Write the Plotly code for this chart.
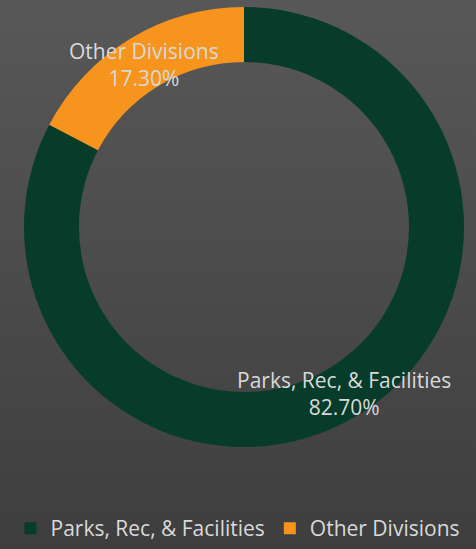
import math, base64
import plotly.graph_objects as go

categories = ["Parks, Rec, & Facilities", "Other Divisions"]
shares = [82.70, 17.30]
colors = ["#073c2a", "#f7941d"]

W, H = 476, 549
cx, cy, r_out, hole = 244, 227, 220, 0.75
r_dom = r_out

dom_x = [(cx - r_dom) / W, (cx + r_dom) / W]
dom_y = [(H - cy - r_dom) / H, (H - cy + r_dom) / H]

fig = go.Figure(go.Pie(
    labels=categories, values=shares, hole=hole, sort=False,
    direction="clockwise", rotation=0,
    marker=dict(colors=colors, line=dict(width=0)),
    textinfo="none", hoverinfo="label+percent",
    domain=dict(x=dom_x, y=dom_y),
))

FONT = "Open Sans"
FS = 21
r_mid = r_out * (1 + hole) / 2
start = 0.0
total = sum(shares)
annotations = []
for cat, v in zip(categories, shares):
    mid = start + v / total * 360 / 2
    start += v / total * 360
    a = math.radians(mid)
    px = cx + r_mid * math.sin(a)
    py = cy - r_mid * math.cos(a) + 2
    annotations.append(dict(
        x=px / W, y=1 - py / H, xref="paper", yref="paper",
        text=f"{cat}<br>{v:.2f}%", showarrow=False,
        font=dict(family=FONT, size=FS, color="#d9d9d9"),
        xanchor="center", yanchor="middle", align="center",
    ))

svg = ('<svg xmlns="http://www.w3.org/2000/svg" width="476" height="549">'
       '<defs><linearGradient id="g" x1="0" y1="0" x2="0" y2="1">'
       '<stop offset="0" stop-color="#585858"/><stop offset="1" stop-color="#3e3e3e"/>'
       '</linearGradient></defs><rect width="476" height="549" fill="url(#g)"/></svg>')
src = "data:image/svg+xml;base64," + base64.b64encode(svg.encode()).decode()

fig.update_layout(
    width=W, height=H, margin=dict(l=0, r=0, t=0, b=0),
    paper_bgcolor="#4b4b4b", plot_bgcolor="rgba(0,0,0,0)",
    images=[dict(source=src, xref="paper", yref="paper", x=0, y=1,
                 sizex=1, sizey=1, sizing="stretch", layer="below",
                 xanchor="left", yanchor="top")],
    annotations=annotations,
    showlegend=True,
    legend=dict(orientation="h", x=0.5, xanchor="center", y=0,
                yanchor="bottom", font=dict(family=FONT, size=FS, color="#d9d9d9"),
                bgcolor="rgba(0,0,0,0)", itemwidth=30),
)

fig.write_html("out.html", config={"displayModeBar": False},
               post_script="document.body.style.margin='0';document.body.style.overflow='hidden';")
